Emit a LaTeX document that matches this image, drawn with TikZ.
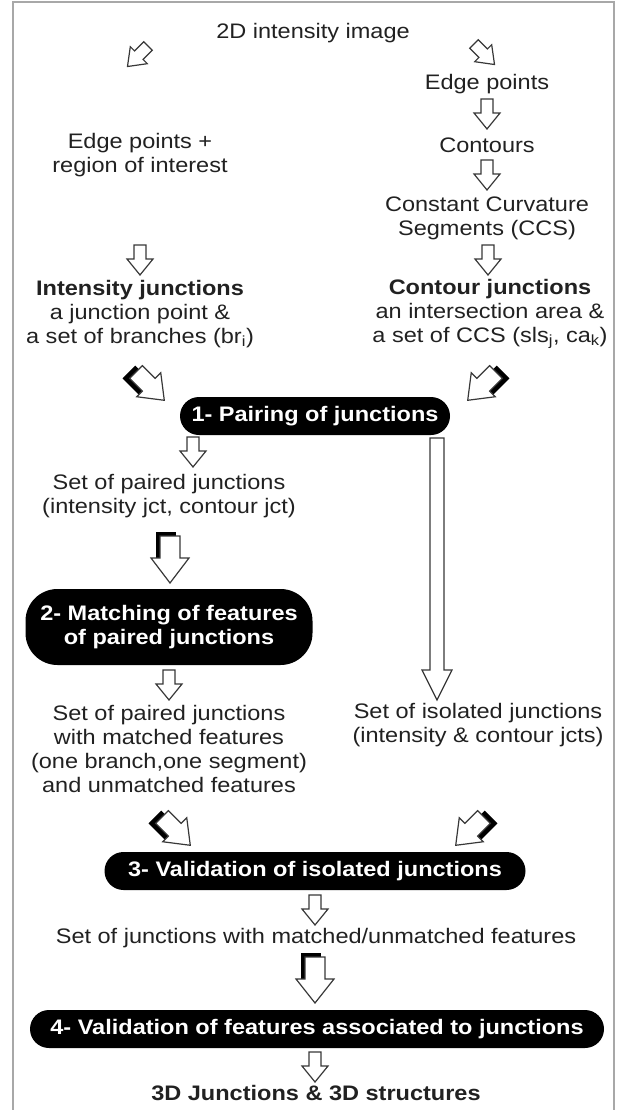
\documentclass[tikz,border=0pt]{standalone}
\usepackage{fontspec}
\setmainfont{Liberation Sans}[FakeStretch=1.12]
\definecolor{ink}{gray}{0.13}
\definecolor{framegray}{gray}{0.66}
\definecolor{arrowgray}{gray}{0.22}
\newcommand{\subx}[1]{\textsubscript{#1}}
% pos, rotation, stem half width, head half width, stem length, total length
\newcommand{\blockarrow}[6]{%
  \begin{scope}[shift={#1},rotate=#2]
    \draw[arrowline] (-#3,0) -- (#3,0) -- (#3,#5) -- (#4,#5) -- (0,#6) -- (-#4,#5) -- (-#3,#5) -- cycle;
  \end{scope}}
% same plus shadow offset dx, dy
\newcommand{\shadowarrow}[8]{%
  \begin{scope}[shift={#1},rotate=#2]
    \fill[black] ({-#3+(#7)},{-#8}) rectangle ({#3+(#7)},#5);
    \draw[arrowline] (-#3,0) -- (#3,0) -- (#3,#5) -- (#4,#5) -- (0,#6) -- (-#4,#5) -- (-#3,#5) -- cycle;
  \end{scope}}
\tikzset{
  arrowline/.style={draw=arrowgray, line width=1.2pt, fill=white, line join=miter},
  txt/.style={text=ink, inner sep=0pt, align=center, font=\fontsize{21}{24}\selectfont},
  proc/.style={fill=black, text=white, inner sep=0pt, align=center, rounded corners=19pt,
    minimum height=38pt, font=\fontsize{21}{24}\selectfont\bfseries},
}
\begin{document}
\begin{tikzpicture}[x=1pt,y=-1pt]
\useasboundingbox (0,0) rectangle (618,1110);
\draw[framegray, line width=1.5pt] (13,1125) -- (13,2) -- (614,2) -- (614,1125);

% texts
\node[txt] (img) at (313,33) {2D intensity image};
\node[txt] (edgeR) at (487,84) {Edge points};
\node[txt] (cont) at (487,145) {Contours};
\node[txt] (ccs) at (487,218.5) {Constant Curvature\\Segments (CCS)};
\node[txt] (edgeL) at (140,155.5) {Edge points +\\region of interest};
\node[txt] (ijct) at (140,314) {\textbf{Intensity junctions}\\a junction point \&\\a set of branches (br\subx{i})};
\node[txt] (cjct) at (490,314) {\textbf{Contour junctions}\\an intersection area \&\\a set of CCS (sls\subx{j}, ca\subx{k})};
\node[proc, minimum width=270pt] (p1) at (315,416) {1- Pairing of junctions};
\node[txt] (paired) at (169,496) {Set of paired junctions\\(intensity jct, contour jct)};
\node[proc, minimum width=287pt, minimum height=76pt, rounded corners=32pt] (p2) at (169,627) {2- Matching of features\\of paired junctions};
\node[txt] (matched) at (169,749) {Set of paired junctions\\with matched features\\(one branch,one segment)\\and unmatched features};
\node[txt] (iso) at (478,725) {Set of isolated junctions\\(intensity \& contour jcts)};
\node[proc, minimum width=421pt] (p3) at (315,871) {3- Validation of isolated junctions};
\node[txt] (all) at (316,938) {Set of junctions with matched/unmatched features};
\node[proc, minimum width=574pt] (p4) at (317,1029) {4- Validation of features associated to junctions};
\node[txt, font=\fontsize{21}{24}\selectfont\bfseries] (out) at (316,1093) {3D Junctions \& 3D structures};

% top diagonal arrows
\blockarrow{(148,46)}{-45}{6}{12}{13}{29}
\blockarrow{(474,44)}{45}{6}{12}{13}{29}
% simple down arrows
\blockarrow{(487,99)}{0}{6}{13}{14}{30}
\blockarrow{(487,160)}{0}{6}{13}{14}{30}
\blockarrow{(140,245)}{0}{6}{13}{14}{30}
\blockarrow{(488,245)}{0}{6}{13}{14}{30}
\blockarrow{(193,437)}{0}{6}{13}{14}{30}
\blockarrow{(169,670)}{0}{6}{13}{14}{30}
\blockarrow{(315,895)}{0}{6}{13}{14}{30}
\blockarrow{(315,1052)}{0}{6}{13}{14}{30}
% tall arrow
\blockarrow{(437,438)}{0}{7}{15}{232}{262}
% shadowed arrows
\shadowarrow{(170,536)}{0}{10}{19}{22}{47}{-4}{4}
\shadowarrow{(315,957)}{0}{10}{19}{22}{46}{-4}{4}
\shadowarrow{(136,372)}{45}{9}{17}{18}{40}{-5}{5}
\shadowarrow{(496,372)}{-45}{9}{17}{18}{40}{5}{5}
\shadowarrow{(162,817)}{45}{9}{17}{18}{40}{-5}{5}
\shadowarrow{(484,817)}{-45}{9}{17}{18}{40}{5}{5}
\end{tikzpicture}
\end{document}
